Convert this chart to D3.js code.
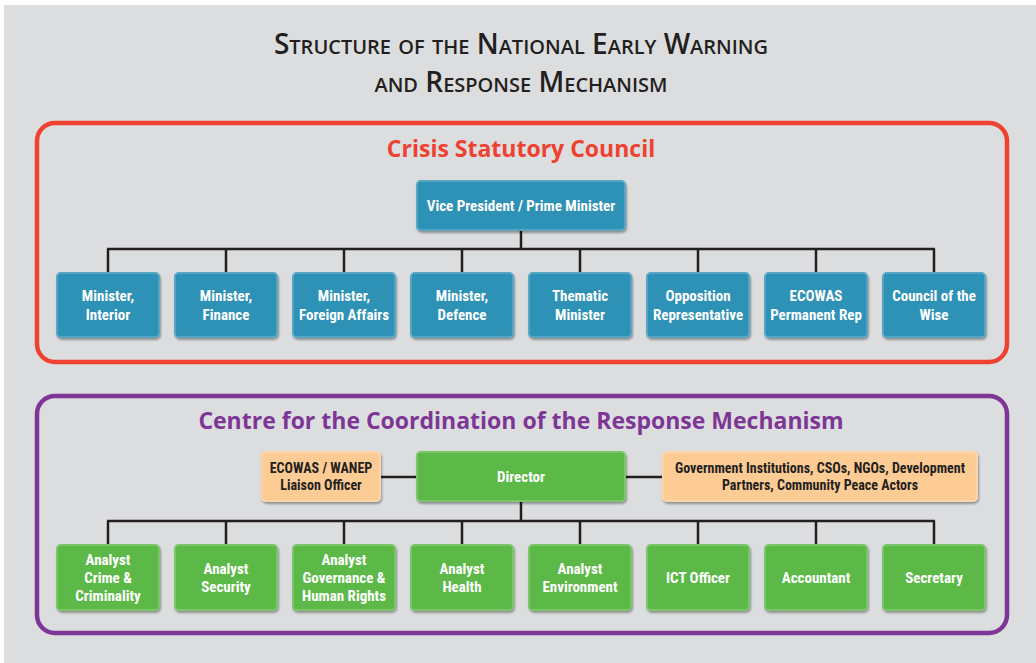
<!DOCTYPE html>
<html>
<head>
<meta charset="utf-8">
<script src="https://cdn.jsdelivr.net/npm/d3@7"></script>
<style>
  body { margin: 0; background: #fff; }
  svg { display: block; }
  .box text { font-family: "Liberation Sans Narrow", "Roboto Condensed", "Open Sans", sans-serif; font-weight: bold; }
</style>
</head>
<body>
<div class="svg-container"></div>
<script>
// chart text
var titleLines = ['Structure of the National Early Warning', 'and Response Mechanism'];
var councilTitle = 'Crisis Statutory Council';
var centreTitle = 'Centre for the Coordination of the Response Mechanism';
var councilHead = ['Vice President / Prime Minister'];
var councilMembers = [
  ['Minister,', 'Interior'], ['Minister,', 'Finance'], ['Minister,', 'Foreign Affairs'],
  ['Minister,', 'Defence'], ['Thematic', 'Minister'], ['Opposition', 'Representative'],
  ['ECOWAS', 'Permanent Rep'], ['Council of the', 'Wise']
];
var centreHead = ['Director'];
var centreLeft = ['ECOWAS / WANEP', 'Liaison Officer'];
var centreRight = ['Government Institutions, CSOs, NGOs, Development', 'Partners, Community Peace Actors'];
var centreStaff = [
  ['Analyst', 'Crime &', 'Criminality'], ['Analyst', 'Security'], ['Analyst', 'Governance &', 'Human Rights'],
  ['Analyst', 'Health'], ['Analyst', 'Environment'], ['ICT Officer'], ['Accountant'], ['Secretary']
];

var W = 1036, H = 663;
var svg = d3.select('.svg-container').append('svg').attr('width', W).attr('height', H);

var defs = svg.append('defs');
var sh = defs.append('filter').attr('id', 'shadow').attr('x', '-10%').attr('y', '-10%').attr('width', '125%').attr('height', '130%');
sh.append('feDropShadow').attr('dx', 1).attr('dy', 2).attr('stdDeviation', 1.2).attr('flood-color', '#000').attr('flood-opacity', 0.35);

svg.append('rect').attr('x', 4).attr('y', 5).attr('width', W - 4).attr('height', H - 5).attr('fill', '#dcdddf');

// title, small caps
var title = svg.append('text').attr('text-anchor', 'middle')
  .style('font-family', '"Open Sans", sans-serif').style('font-weight', 600)
  .style('font-variant', 'small-caps').style('font-size', '28px').attr('fill', '#231f20');
titleLines.forEach(function(t, i) {
  title.append('tspan').attr('x', 521).attr('y', 54 + i * 38).text(t);
});

// section frames
function frame(x, y, w, h, color, label, ly) {
  svg.append('rect').attr('x', x).attr('y', y).attr('width', w).attr('height', h)
    .attr('rx', 18).attr('fill', 'none').attr('stroke', color).attr('stroke-width', 4.5);
  svg.append('text').attr('x', 521).attr('y', ly).attr('text-anchor', 'middle')
    .style('font-family', '"Open Sans", sans-serif').style('font-weight', 700)
    .style('font-size', '23px').attr('fill', color).text(label);
}
frame(37, 123, 970, 239, '#ee4130', councilTitle, 157);
frame(37, 396, 970, 237, '#7d3695', centreTitle, 429);

var x = d3.scaleBand().domain(d3.range(8)).range([56, 986]).paddingInner(14 / 118);
var cx = function(i) { return x(i) + x.bandwidth() / 2; };

function tree(headBottom, barY, childTop) {
  var g = svg.append('g').attr('stroke', '#231f20').attr('stroke-width', 2.5).attr('fill', 'none');
  g.append('line').attr('x1', 521).attr('x2', 521).attr('y1', headBottom).attr('y2', barY);
  g.append('line').attr('x1', cx(0) - 1).attr('x2', cx(7) + 1).attr('y1', barY).attr('y2', barY);
  g.selectAll('line.v').data(d3.range(8)).join('line').attr('class', 'v')
    .attr('x1', cx).attr('x2', cx).attr('y1', barY).attr('y2', childTop);
}

function box(x0, y0, w, h, fill, lines, textColor, fs) {
  var g = svg.append('g').attr('class', 'box');
  g.append('rect').attr('x', x0).attr('y', y0).attr('width', w).attr('height', h).attr('rx', 5)
    .attr('fill', fill).attr('filter', 'url(#shadow)');
  g.append('rect').attr('x', x0 + 1).attr('y', y0 + 1).attr('width', w - 2).attr('height', h - 2).attr('rx', 4)
    .attr('fill', 'none').attr('stroke', '#fff').attr('stroke-opacity', 0.25).attr('stroke-width', 1.5);
  var lh = fs * 1.22;
  var t = g.append('text').attr('text-anchor', 'middle').attr('fill', textColor).style('font-size', fs + 'px');
  lines.forEach(function(l, i) {
    t.append('tspan').attr('x', x0 + w / 2)
      .attr('y', y0 + h / 2 + (i - (lines.length - 1) / 2) * lh + fs * 0.36).text(l);
  });
}

// council
tree(231, 249, 272);
box(416, 180, 210, 51, '#2e91b6', councilHead, '#fff', 15);
councilMembers.forEach(function(d, i) { box(x(i), 272, x.bandwidth(), 66, '#2e91b6', d, '#fff', 15); });

// centre
svg.append('line').attr('x1', 381).attr('x2', 662).attr('y1', 477).attr('y2', 477)
  .attr('stroke', '#231f20').attr('stroke-width', 2.5);
tree(502, 521, 544);
box(261, 451, 120, 51, '#fdcb94', centreLeft, '#231f20', 14);
box(416, 451, 210, 51, '#5cb947', centreHead, '#fff', 15);
box(662, 451, 316, 51, '#fdcb94', centreRight, '#231f20', 14);
centreStaff.forEach(function(d, i) { box(x(i), 544, x.bandwidth(), 67, '#5cb947', d, '#fff', 15); });
</script>
</body>
</html>
